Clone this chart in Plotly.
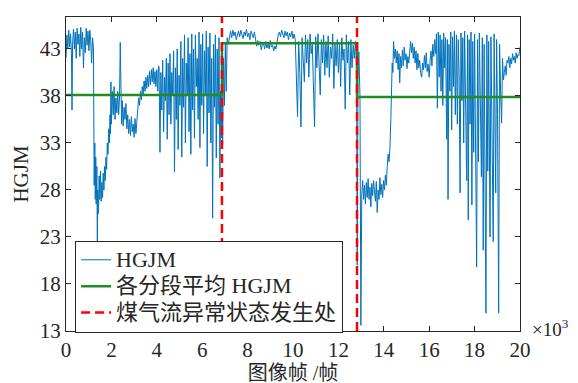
import plotly.graph_objects as go

# ---- data (frames, HGJM values) ----
frames_a = [0, 40, 80, 120, 160, 200, 240, 265, 290, 330, 370, 410, 450, 490, 530, 570, 610, 650, 690, 730,
            770, 810, 850, 890, 930, 970, 1010, 1050, 1090, 1130, 1170, 1210]
hgjm_a = [42.0, 44.5, 43.0, 45.0, 43.2, 44.6, 42.5, 36.5, 43.5, 45.1, 43.0, 44.8, 42.0, 45.2, 43.5, 44.6, 42.2, 45.3, 43.0, 44.8,
          41.0, 44.2, 42.6, 45.2, 43.4, 44.9, 42.8, 45.0, 43.8, 41.5, 44.2, 43.0]

frames_b = [1240, 1270, 1290, 1310, 1330, 1360, 1380, 1400, 1430, 1460, 1490, 1520, 1550, 1580, 1610, 1640, 1670, 1700,
            1730, 1760, 1790, 1820, 1850, 1880, 1910, 1940, 1960, 1980]
hgjm_b = [28.5, 33.0, 27.0, 31.5, 26.5, 30.5, 21.5, 28.0, 25.5, 29.5, 27.0, 30.0, 26.8, 28.8, 27.2, 29.8, 28.0, 30.5,
          29.0, 31.5, 30.2, 33.0, 31.8, 34.5, 33.0, 36.0, 34.0, 39.5]

frames_c = [2000, 2040, 2080, 2120, 2160, 2200, 2240, 2280, 2320, 2360, 2390, 2420, 2450, 2480, 2520, 2560, 2600, 2640,
            2680, 2720, 2760, 2800, 2840, 2880, 2920, 2960, 3000, 3040, 3080, 3120, 3160, 3200, 3240, 3280, 3320,
            3360, 3400, 3440, 3480, 3520, 3560, 3600, 3640, 3680, 3720, 3760, 3800, 3840, 3880, 3920, 3960, 4000,
            4040, 4080]
hgjm_c = [35.0, 38.5, 36.0, 39.0, 35.5, 37.8, 36.2, 38.5, 36.0, 38.0, 43.7, 37.0, 35.0, 37.5, 34.8, 36.8, 35.5, 37.2,
          34.5, 36.0, 34.0, 35.5, 33.8, 35.8, 34.2, 35.0, 33.6, 35.6, 34.0, 35.2, 36.5, 37.8, 37.0, 38.5, 37.6,
          39.0, 38.2, 39.6, 38.5, 40.0, 38.8, 40.2, 39.0, 40.6, 39.2, 40.8, 39.5, 41.0, 39.3, 40.6, 39.0, 40.8,
          38.5, 41.2]

frames_d = list(range(4100, 6800, 40)) + [6810, 6840, 6870, 6900, 6940, 6980, 7020, 7060, 7100, 7150]
hgjm_d = [41.0, 32.0, 40.5, 36.5, 41.8, 34.2, 40.0, 37.5, 42.0, 33.4, 41.5, 36.0, 42.5, 35.0, 40.5, 38.0,
          42.8, 29.9, 41.0, 35.5, 43.0, 32.3, 40.2, 37.0, 43.8, 31.5, 42.0, 36.8, 44.5, 33.0, 41.5, 38.2,
          44.2, 34.2, 42.5, 31.8, 44.6, 36.5, 43.0, 33.5, 44.5, 39.0, 42.0, 35.5, 44.8, 32.5, 43.5, 37.0,
          44.6, 34.0, 42.8, 38.0, 44.9, 30.5, 43.2, 36.2, 44.7, 33.0, 42.0, 25.0, 43.5, 36.8, 44.5, 31.4,
          43.0, 35.0, 44.2, 29.3,
          38.5, 33.5, 40.5, 32.8, 42.0, 37.0, 43.5, 38.5, 44.2, 43.5]

frames_e = list(range(7200, 10150, 50))
hgjm_e = [44.5, 44.9, 44.2, 45.0, 44.4, 44.8, 44.0, 44.6, 44.9, 44.3, 45.0, 44.5, 44.1, 44.8, 44.4, 45.1,
          44.3, 44.7, 44.0, 44.9, 44.5, 44.2, 44.8, 44.1, 43.3, 43.9, 43.4, 43.8, 42.9, 43.5, 43.6, 43.0,
          43.8, 43.1, 43.5, 43.0, 43.9, 43.2, 43.4, 42.8, 43.3, 43.0, 43.9, 44.5, 44.8, 44.3, 45.0, 44.6,
          44.2, 44.9, 44.4, 44.8, 44.0, 44.7, 44.3, 44.9, 44.1, 44.6, 44.0]

frames_f = list(range(10200, 12850, 50))
hgjm_f = [35.8, 43.8, 40.5, 34.7, 44.2, 42.0, 39.5, 44.5, 41.5, 44.0, 40.0, 44.6, 42.5, 43.5, 37.0, 34.7,
          44.3, 41.0, 44.6, 42.0, 38.1, 44.0, 41.5, 44.5, 40.2, 43.8, 41.0, 44.4, 40.0, 43.2, 42.0, 44.6,
          38.8, 43.5, 41.2, 44.0, 40.5, 43.6, 39.0, 44.2, 41.8, 43.0, 36.6, 44.5, 41.5, 43.8, 38.1, 44.0,
          41.0, 43.4, 42.0, 43.8, 41.5]

frames_g = [12830, 12860, 12900, 12950, 12990, 13030, 13070, 13110, 13150, 13190, 13230, 13270, 13310, 13350,
            13390, 13430, 13470, 13510, 13550, 13590, 13630, 13670, 13710, 13750, 13790, 13830, 13870, 13910,
            13950, 13990, 14030, 14070, 14110, 14150, 14190, 14230, 14270, 14310, 14340, 14370, 14400, 14430]
hgjm_g = [20.0, 40.0, 42.7, 38.0, 13.6, 27.5, 29.0, 27.0, 28.5, 26.5, 28.8, 27.2, 29.2, 27.0,
          28.3, 26.2, 28.7, 27.4, 29.0, 27.8, 26.8, 28.9, 25.6, 28.0, 27.0, 29.3, 27.5, 28.6,
          27.2, 29.0, 28.0, 29.6, 28.5, 30.5, 31.8, 31.0, 32.5, 35.5, 39.0, 41.5, 40.5, 43.8]

frames_h = [14470, 14510, 14550, 14590, 14630, 14670, 14700, 14740, 14780, 14820, 14860, 14900, 14940, 14980,
            15020, 15060, 15100, 15140, 15180, 15220, 15260, 15300, 15340, 15380, 15420, 15460, 15500, 15540,
            15580, 15620, 15670, 15710, 15750, 15790, 15830, 15870, 15910, 15950, 16000, 16040, 16080, 16120,
            16160, 16200, 16240, 16280, 16320]
hgjm_h = [42.0, 43.0, 41.5, 42.8, 40.8, 42.5, 39.4, 42.2, 41.0, 42.9, 41.2, 43.2, 41.8, 42.5,
          40.9, 42.2, 41.5, 43.0, 43.8, 42.6, 43.6, 42.0, 43.2, 41.5, 42.8, 40.8, 42.5, 41.0,
          41.8, 40.5, 40.0, 41.5, 40.8, 42.3, 41.0, 42.6, 40.6, 41.4, 40.0, 41.8, 42.8, 41.2,
          43.5, 42.2, 44.0, 42.5, 44.6]

frames_i = [16360, 16400, 16440, 16480, 16520, 16560, 16600, 16640, 16680, 16720, 16770, 16800, 16830, 16870,
            16910, 16950, 16990, 17030, 17070, 17110, 17150, 17200, 17240, 17280, 17320, 17360, 17400, 17440,
            17480, 17520, 17560, 17600, 17650, 17690, 17720, 17760, 17800, 17840, 17880, 17920, 17960, 18000,
            18040, 18090, 18130, 18170, 18210, 18250, 18300, 18340, 18380, 18420, 18460, 18500, 18540, 18580,
            18620, 18680, 18720, 18760, 18820, 18860, 18900, 18930, 18970, 19010, 19060, 19100, 19150, 19190,
            19230]
hgjm_i = [36.7, 44.8, 40.0, 44.5, 38.5, 44.0, 37.0, 44.7, 41.0, 44.2, 33.4, 44.0, 27.0, 43.5,
          38.5, 44.8, 34.4, 44.3, 39.0, 44.9, 36.0, 44.5, 35.0, 44.0, 40.0, 27.7, 44.7, 37.5,
          44.2, 33.0, 44.9, 38.0, 29.0, 44.5, 24.8, 44.0, 35.0, 44.8, 26.4, 43.8, 32.0, 44.6,
          36.5, 19.8, 44.0, 31.0, 44.7, 35.5, 29.4, 44.2, 21.6, 43.5, 33.0, 14.9, 44.5, 30.0,
          43.8, 23.0, 44.3, 34.0, 22.5, 44.6, 31.0, 27.7, 44.0, 36.0, 14.9, 43.5, 38.0, 35.1,
          42.0]

frames_j = [19270, 19310, 19350, 19390, 19430, 19470, 19510, 19550, 19590, 19630, 19670, 19710, 19750, 19790,
            19830, 19870, 19910, 19950, 20000]
hgjm_j = [39.7, 40.5, 41.2, 40.2, 41.8, 41.5, 42.2, 41.0, 42.0, 41.4, 42.5, 41.8, 42.2, 41.5,
          42.6, 42.0, 42.4, 42.3, 43.2]

# segment means (step line) and anomaly positions
seg_edges = [0, 6870, 12820, 20000]
seg_means = [38.1, 43.6, 37.9, 37.9]
event_frames = [6870, 12820]

x_ticks = list(range(0, 20001, 2000))
x_ticklabels = [str(v) for v in range(0, 21, 2)]
y_ticks = [13, 18, 23, 28, 33, 38, 43]
y_min, y_max = 13, 46.4

frames = frames_a + frames_b + frames_c + frames_d + frames_e + frames_f + frames_g + frames_h + frames_i + frames_j
hgjm = hgjm_a + hgjm_b + hgjm_c + hgjm_d + hgjm_e + hgjm_f + hgjm_g + hgjm_h + hgjm_i + hgjm_j

FONT = "Liberation Serif, 'Noto Sans CJK SC', serif"
INK = "#262626"


def big(t):
    return '<span style="font-size:22px">' + t + '</span>'


fig = go.Figure()
fig.add_trace(go.Scatter(x=frames, y=hgjm, mode="lines", name=big("HGJM"),
                         line=dict(color="#0072BD", width=1)))
fig.add_trace(go.Scatter(x=seg_edges, y=seg_means, mode="lines", name=big("各分段平均 HGJM"),
                         line=dict(color="#228B22", width=2.5, shape="hv")))
ex, ey = [], []
for f in event_frames:
    ex += [f, f, None]
    ey += [y_min, y_max, None]
fig.add_trace(go.Scatter(x=ex, y=ey, mode="lines", name=big("煤气流异常状态发生处"),
                         line=dict(color="#FF0000", width=2.5, dash="9px,5px")))

axis_common = dict(showline=True, linecolor=INK, linewidth=1, mirror="ticks", automargin=False,
                   ticks="inside", ticklen=5, tickcolor=INK, showgrid=False, zeroline=False,
                   tickfont=dict(family=FONT, size=21, color=INK))

fig.update_xaxes(range=[0, 20000], tickvals=x_ticks, ticktext=x_ticklabels,
                 title=dict(text="图像帧 /帧", font=dict(family=FONT, size=20, color=INK), standoff=4),
                 **axis_common)
fig.update_yaxes(range=[y_min, y_max], tickvals=y_ticks,
                 title=dict(text="HGJM", font=dict(family=FONT, size=21, color=INK), standoff=5),
                 **axis_common)

fig.add_annotation(text="×10<sup>3</sup>", xref="paper", yref="paper", x=1.022, y=0.01,
                   xanchor="left", yanchor="middle", showarrow=False,
                   font=dict(family=FONT, size=19, color=INK))

# page body adds an 8px offset, margins compensate so the plot lands at 66..520 x 17..331
fig.update_layout(
    width=578, height=383,
    margin=dict(l=58, r=66, t=9, b=60, autoexpand=False),
    paper_bgcolor="white", plot_bgcolor="white",
    showlegend=True,
    legend=dict(x=0.02, y=-0.005, xanchor="left", yanchor="bottom",
                bgcolor="white", bordercolor=INK, borderwidth=1,
                font=dict(family=FONT, size=18, color=INK),
                tracegroupgap=0),
)

fig.write_html("out.html")
